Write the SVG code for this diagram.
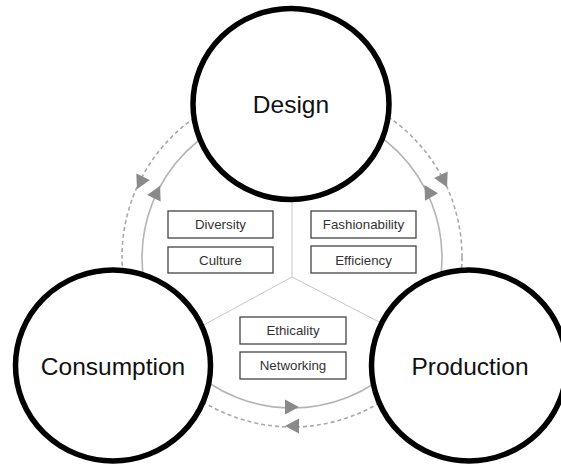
<svg xmlns="http://www.w3.org/2000/svg" width="561" height="466" viewBox="0 0 561 466">
  <style>
    .flow { fill: none; stroke: #b4b4b4; stroke-width: 1.6; }
    .flow-back { fill: none; stroke: #a8a8a8; stroke-width: 1.6; stroke-dasharray: 4 3; }
    .divider { fill: none; stroke: #c8c8c8; stroke-width: 1; }
    .head { fill: #8a8a8a; }
    .stage { fill: #fff; stroke: #000; stroke-width: 5.5; }
    .stage-label { font-family: "Liberation Sans", Arial, sans-serif; font-size: 24.5px; fill: #111; text-anchor: middle; }
    .tag rect { fill: #fff; stroke: #444; stroke-width: 1.3; }
    .tag text { font-family: "Liberation Sans", Arial, sans-serif; font-size: 13.3px; fill: #333; text-anchor: middle; }
  </style>
  <defs>
    <path id="tri" d="M7,0 L-7,-7.5 L-7,7.5 Z"/>
  </defs>
  <rect width="561" height="466" fill="#fff"/>

  <g id="connectors">
    <!-- sector dividers meeting at the hub -->
    <path class="divider" d="M292,200 L292,277 L200,327 M292,277 L385,325"/>
    <!-- outer rings: solid forward flow, dashed return flow -->
    <circle class="flow" cx="292" cy="258" r="150"/>
    <circle class="flow-back" cx="292" cy="257" r="170"/>
    <!-- arrowheads -->
    <use href="#tri" class="head" transform="translate(157,192) rotate(-64)"/>
    <use href="#tri" class="head" transform="translate(140,183) rotate(116)"/>
    <use href="#tri" class="head" transform="translate(428,191) rotate(-120)"/>
    <use href="#tri" class="head" transform="translate(444,181) rotate(64)"/>
    <use href="#tri" class="head" transform="translate(292,407)"/>
    <use href="#tri" class="head" transform="translate(292,426) rotate(180)"/>
  </g>

  <g id="design">
    <ellipse class="stage" cx="291" cy="104" rx="98" ry="95.5"/>
    <text class="stage-label" x="291" y="113">Design</text>
  </g>
  <g id="consumption">
    <ellipse class="stage" cx="113" cy="365.5" rx="97.5" ry="95.5"/>
    <text class="stage-label" x="113" y="375">Consumption</text>
  </g>
  <g id="production">
    <ellipse class="stage" cx="469" cy="365.5" rx="97.5" ry="95.5"/>
    <text class="stage-label" x="470" y="375">Production</text>
  </g>

  <g id="diversity" class="tag">
    <rect x="168" y="211" width="105" height="27"/>
    <text x="220.5" y="229">Diversity</text>
  </g>
  <g id="culture" class="tag">
    <rect x="168" y="247" width="105" height="26"/>
    <text x="220.5" y="264.5">Culture</text>
  </g>
  <g id="fashionability" class="tag">
    <rect x="311" y="211" width="105" height="27"/>
    <text x="363.5" y="229">Fashionability</text>
  </g>
  <g id="efficiency" class="tag">
    <rect x="311" y="246" width="105" height="27"/>
    <text x="363.5" y="264.5">Efficiency</text>
  </g>
  <g id="ethicality" class="tag">
    <rect x="240" y="317" width="106" height="27"/>
    <text x="293" y="335">Ethicality</text>
  </g>
  <g id="networking" class="tag">
    <rect x="240" y="352" width="106" height="27"/>
    <text x="293" y="370">Networking</text>
  </g>
</svg>
